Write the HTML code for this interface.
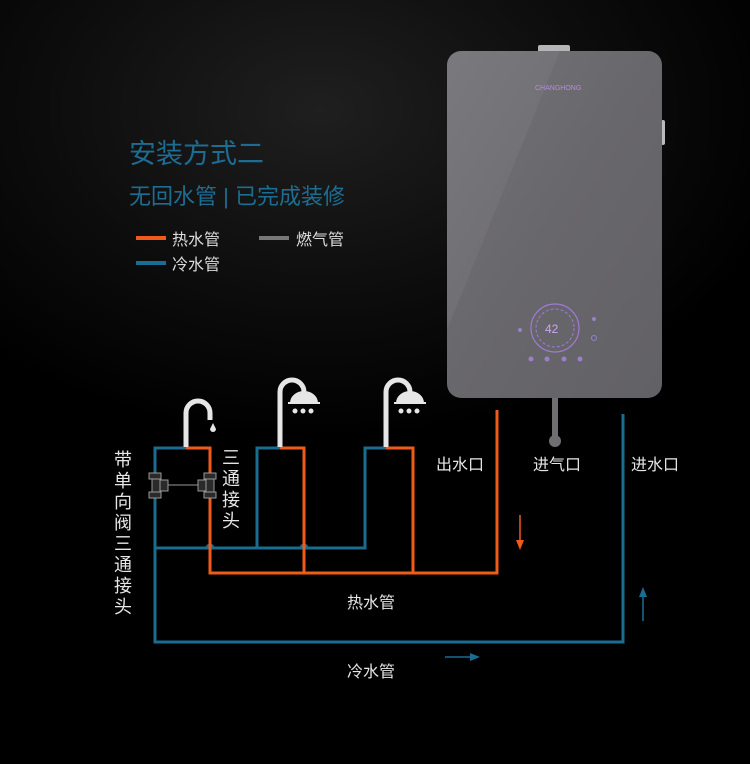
<!DOCTYPE html>
<html><head><meta charset="utf-8"><style>
html,body{margin:0;padding:0;}
body{width:750px;height:764px;overflow:hidden;background:radial-gradient(ellipse 480px 330px at 320px 110px,#1f1f1f 0%,#0d0d0d 55%,#000 100%);font-family:"Liberation Sans","Noto Sans CJK SC",sans-serif;position:relative;}
svg{position:absolute;left:0;top:0;}
</style></head><body>
<svg width="750" height="764" viewBox="0 0 750 764" xmlns="http://www.w3.org/2000/svg" font-family="Liberation Sans, Noto Sans CJK SC, sans-serif">
<defs>
<linearGradient id="hg" x1="0" y1="0" x2="1" y2="1">
<stop offset="0" stop-color="#7a797d"/><stop offset="0.5" stop-color="#6e6d71"/><stop offset="1" stop-color="#68676b"/>
</linearGradient>
</defs>
<text x="129" y="163" font-size="27" fill="#1d6d93">安装方式二</text>
<text x="129" y="204" font-size="22" fill="#1d6d93">无回水管 | 已完成装修</text>
<rect x="136" y="236" width="30" height="4" fill="#f05a1a"/>
<text x="172" y="245" font-size="16" fill="#ddd">热水管</text>
<rect x="259" y="236" width="30" height="4" fill="#777"/>
<text x="296" y="245" font-size="16" fill="#ddd">燃气管</text>
<rect x="136" y="261" width="30" height="4" fill="#1a6d90"/>
<text x="172" y="270" font-size="16" fill="#ddd">冷水管</text>

<rect x="538" y="45" width="32" height="9" rx="2" fill="#b5b5b8"/>
<rect x="661" y="120" width="4" height="25" rx="2" fill="#bbb"/>
<rect x="447" y="51" width="215" height="347" rx="14" fill="url(#hg)"/>
<polygon points="560,51 662,51 662,398 447,398 447,330" fill="#000" opacity="0.05"/>
<text x="535" y="90" font-size="7" fill="#b28ee0">CHANGHONG</text>
<circle cx="555" cy="328" r="24" fill="none" stroke="#a07ad8" stroke-width="1.2"/>
<circle cx="555" cy="328" r="19" fill="none" stroke="#a07ad8" stroke-width="1" stroke-dasharray="3 2"/>
<text x="545" y="333" font-size="12" fill="#c7a8f0">42</text>
<circle cx="520" cy="330" r="2" fill="#9a80c8"/>
<circle cx="594" cy="319" r="2" fill="#9a80c8"/><circle cx="594" cy="338" r="2.5" fill="none" stroke="#9a80c8"/>
<circle cx="531" cy="359" r="2.5" fill="#9a80c8"/><circle cx="547" cy="359" r="2.5" fill="#9a80c8"/><circle cx="564" cy="359" r="2.5" fill="#9a80c8"/><circle cx="580" cy="359" r="2.5" fill="#9a80c8"/>
<rect x="552" y="398" width="6" height="40" fill="#6f6e72"/>
<circle cx="555" cy="441" r="6" fill="#6f6e72"/>

<g fill="none" stroke-width="3" stroke-linejoin="miter">
<path d="M623 414 V642 H155 V448 H186" stroke="#1a6d90"/>
<path d="M155 548 H207 a3 3 0 0 1 6 0 H301 a3 3 0 0 1 6 0 H365 V448 H386" stroke="#1a6d90"/>
<path d="M257 548 V448 H280" stroke="#1a6d90"/>
<path d="M186 448 H210 V573 H497 V410" stroke="#f05a1a"/>
<path d="M280 448 H304 V573" stroke="#f05a1a"/>
<path d="M386 448 H413 V573" stroke="#f05a1a"/>
</g>
<g fill="none" stroke="#e6e6e6" stroke-width="5">
<path d="M186 447 V413 a12 12 0 0 1 24 0 V420"/>
<path d="M280 447 V392 a12 12 0 0 1 24 0"/>
<path d="M386 447 V392 a12 12 0 0 1 24 0"/>
</g>
<path d="M213 423 l3 6 a3 3 0 1 1 -6 0z" fill="#e6e6e6"/>
<g fill="#e6e6e6">
<path d="M290 403 a14 12 0 0 1 28 0z"/><rect x="288" y="402" width="32" height="2"/>
<circle cx="295" cy="411" r="2.5"/><circle cx="303" cy="411" r="2.5"/><circle cx="311" cy="411" r="2.5"/>
<path d="M396 403 a14 12 0 0 1 28 0z"/><rect x="394" y="402" width="32" height="2"/>
<circle cx="401" cy="411" r="2.5"/><circle cx="409" cy="411" r="2.5"/><circle cx="417" cy="411" r="2.5"/>
</g>
<g fill="#2a2a2a" stroke="#999" stroke-width="1">
<rect x="149" y="473" width="12" height="6"/><rect x="149" y="492" width="12" height="6"/><rect x="152" y="479" width="8" height="13"/><rect x="160" y="480" width="8" height="11"/>
<rect x="204" y="473" width="12" height="6"/><rect x="204" y="492" width="12" height="6"/><rect x="206" y="479" width="8" height="13"/><rect x="198" y="480" width="8" height="11"/>
</g>
<line x1="168" y1="485" x2="198" y2="485" stroke="#999" stroke-width="1"/>

<g fill="#e6e6e6" font-size="18">
<text x="114" y="466">带</text><text x="114" y="487">单</text><text x="114" y="508">向</text><text x="114" y="529">阀</text><text x="114" y="550">三</text><text x="114" y="571">通</text><text x="114" y="592">接</text><text x="114" y="613">头</text>
<text x="222" y="464">三</text><text x="222" y="485">通</text><text x="222" y="506">接</text><text x="222" y="527">头</text>
</g>
<g fill="#e6e6e6" font-size="16">
<text x="436" y="470">出水口</text><text x="533" y="470">进气口</text><text x="631" y="470">进水口</text>
<text x="347" y="608">热水管</text><text x="347" y="677">冷水管</text>
</g>
<line x1="520" y1="515" x2="520" y2="545" stroke="#f05a1a" stroke-width="1.5"/>
<path d="M516 540 L520 550 L524 540z" fill="#f05a1a"/>
<line x1="643" y1="592" x2="643" y2="621" stroke="#1a6d90" stroke-width="1.5"/>
<path d="M639 597 L643 587 L647 597z" fill="#1a6d90"/>
<line x1="445" y1="657" x2="475" y2="657" stroke="#1a6d90" stroke-width="1.5"/>
<path d="M470 653 L480 657 L470 661z" fill="#1a6d90"/>
</svg>
</body></html>
